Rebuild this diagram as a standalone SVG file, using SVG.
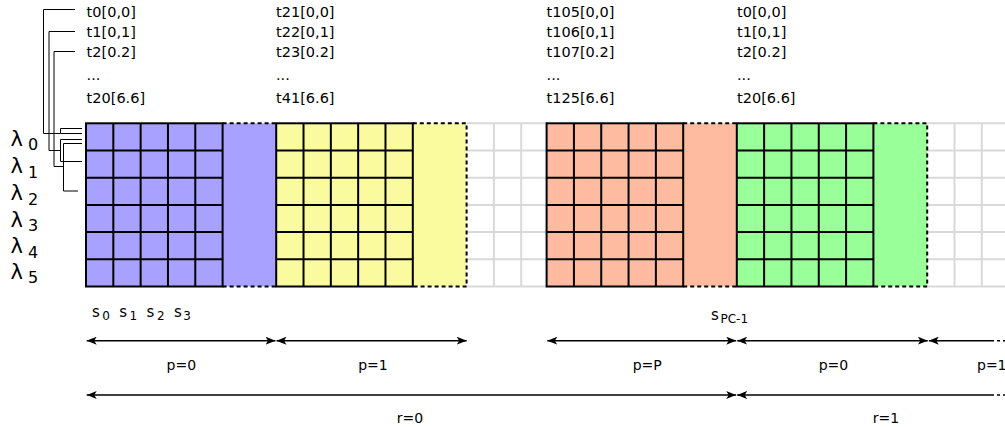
<svg xmlns="http://www.w3.org/2000/svg" xmlns:xlink="http://www.w3.org/1999/xlink" width="1005" height="427" viewBox="0 0 1005 427">
  <style>
    text { font-family: "DejaVu Sans", "Liberation Sans", sans-serif; fill: #000; }
    .task { font-size: 14.5px; }
    .lam { font-size: 21px; }
    .lsub { font-size: 16px; }
    .s { font-size: 15px; }
    .ssub { font-size: 12px; }
    .lbl { font-size: 14px; text-anchor: middle; }
    .grid { fill: none; stroke: #000; stroke-width: 2; }
    .dash { fill: none; stroke: #000; stroke-width: 2; stroke-dasharray: 4 3; }
    .ghost { fill: none; stroke: #d9d9d9; stroke-width: 2; }
    .link { fill: none; stroke: #000; stroke-width: 1; }
    .dim { fill: none; stroke: #000; stroke-width: 1.5; }
    .dimend { fill: none; stroke: #000; stroke-width: 1.5; stroke-dasharray: 3 3; }
  </style>
  <defs>
    <!-- 5 x 6 cell grid of one partition -->
    <g id="cells">
      <rect x="0" y="0" width="136.6" height="163.2" class="grid"/>
      <path class="grid" d="M27.32,0V163.2M54.64,0V163.2M81.96,0V163.2M109.28,0V163.2M0,27.2H136.6M0,54.4H136.6M0,81.6H136.6M0,108.8H136.6M0,136H136.6"/>
    </g>
    <marker id="arr" viewBox="0 0 10 8" refX="10" refY="4" markerWidth="10" markerHeight="8" markerUnits="userSpaceOnUse" orient="auto-start-reverse">
      <path d="M0,0L10,4L0,8L2.5,4Z" fill="#000"/>
    </marker>
  </defs>

  <!-- unused grey cells -->
  <g id="idle-cells" class="ghost">
    <path d="M466.6,123.3H546.6M466.6,150.5H546.6M466.6,177.7H546.6M466.6,204.9H546.6M466.6,232.1H546.6M466.6,259.3H546.6M466.6,286.5H546.6M493.9,123.3V286.5M521.2,123.3V286.5"/>
    <path d="M927.2,123.3H1005M927.2,150.5H1005M927.2,177.7H1005M927.2,204.9H1005M927.2,232.1H1005M927.2,259.3H1005M927.2,286.5H1005M954.5,123.3V286.5M981.8,123.3V286.5"/>
  </g>

  <!-- partition p=0, r=0 -->
  <g id="block-p0" transform="translate(86,123.3)">
    <rect x="0" y="0" width="190.4" height="163.2" fill="#A9A1FF"/>
    <use xlink:href="#cells"/>
    <path class="dash" d="M136.6,0H190.4M136.6,163.2H190.4"/>
  </g>

  <!-- partition p=1, r=0 -->
  <g id="block-p1" transform="translate(276.2,123.3)">
    <rect x="0" y="0" width="190.4" height="163.2" fill="#FAFA9E"/>
    <use xlink:href="#cells"/>
    <path class="dash" d="M136.6,0H190.4V163.2H136.6"/>
  </g>

  <!-- partition p=P, r=0 -->
  <g id="block-pP" transform="translate(546.6,123.3)">
    <rect x="0" y="0" width="190.4" height="163.2" fill="#FFBB9F"/>
    <use xlink:href="#cells"/>
    <path class="dash" d="M136.6,0H190.4M136.6,163.2H190.4"/>
  </g>

  <!-- partition p=0, r=1 -->
  <g id="block-p0-r1" transform="translate(736.8,123.3)">
    <rect x="0" y="0" width="190.4" height="163.2" fill="#99FF99"/>
    <use xlink:href="#cells"/>
    <path class="dash" d="M136.6,0H190.4V163.2H136.6"/>
  </g>

  <!-- task labels -->
  <g id="tasks-p0" class="task">
    <text x="86.6" y="16.7">t0[0,0]</text>
    <text x="86.6" y="36.7">t1[0,1]</text>
    <text x="86.6" y="56.7">t2[0.2]</text>
    <text x="86.6" y="80.3">...</text>
    <text x="86.6" y="102.7">t20[6.6]</text>
  </g>
  <g id="tasks-p1" class="task">
    <text x="276" y="16.7">t21[0,0]</text>
    <text x="276" y="36.7">t22[0,1]</text>
    <text x="276" y="56.7">t23[0.2]</text>
    <text x="276" y="80.3">...</text>
    <text x="276" y="102.7">t41[6.6]</text>
  </g>
  <g id="tasks-pP" class="task">
    <text x="546.6" y="16.7">t105[0,0]</text>
    <text x="546.6" y="36.7">t106[0,1]</text>
    <text x="546.6" y="56.7">t107[0.2]</text>
    <text x="546.6" y="80.3">...</text>
    <text x="546.6" y="102.7">t125[6.6]</text>
  </g>
  <g id="tasks-p0-r1" class="task">
    <text x="737" y="16.7">t0[0,0]</text>
    <text x="737" y="36.7">t1[0,1]</text>
    <text x="737" y="56.7">t2[0.2]</text>
    <text x="737" y="80.3">...</text>
    <text x="737" y="102.7">t20[6.6]</text>
  </g>

  <!-- wavelength rows -->
  <g id="lambdas">
    <text class="lam" x="10.5" y="146">λ</text><text class="lsub" x="28" y="150.3">0</text>
    <text class="lam" x="10.5" y="173.3">λ</text><text class="lsub" x="28" y="177.8">1</text>
    <text class="lam" x="10.5" y="200">λ</text><text class="lsub" x="28" y="204.5">2</text>
    <text class="lam" x="10.5" y="226.7">λ</text><text class="lsub" x="28" y="231.2">3</text>
    <text class="lam" x="10.5" y="253.3">λ</text><text class="lsub" x="28" y="257.8">4</text>
    <text class="lam" x="10.5" y="278.5">λ</text><text class="lsub" x="28" y="283">5</text>
  </g>

  <!-- slot labels -->
  <g id="slots">
    <text class="s" x="92" y="316.7">s</text><text class="ssub" x="102.3" y="319.5">0</text>
    <text class="s" x="119.3" y="316.7">s</text><text class="ssub" x="129.6" y="319.5">1</text>
    <text class="s" x="146.6" y="316.7">s</text><text class="ssub" x="156.9" y="319.5">2</text>
    <text class="s" x="173.9" y="316.7">s</text><text class="ssub" x="183.2" y="319.5">3</text>
    <text class="s" x="711" y="320">s</text><text class="ssub" x="720.5" y="323.3">PC-1</text>
  </g>

  <!-- connectors: task to wavelength pairs, and extent arrows -->
  <g id="connectors">
    <path class="link" d="M75,9.5H43.5V133.5H60.5M60.5,133.5V128.5H82M60.5,133.5H82"/>
    <path class="link" d="M75,31.5H49V150.5H60.5M60.5,139.5V161.5M60.5,139.5H82M60.5,161.5H82"/>
    <path class="link" d="M75,51.5H54V166.5H63.5M63.5,143.5V191M63.5,143.5H82M63.5,191H78"/>

    <path class="dim" d="M86.7,340.7H275.5" marker-start="url(#arr)" marker-end="url(#arr)"/>
    <path class="dim" d="M276.5,340.7H466.7" marker-start="url(#arr)" marker-end="url(#arr)"/>
    <path class="dim" d="M547.3,340.7H736.2" marker-start="url(#arr)" marker-end="url(#arr)"/>
    <path class="dim" d="M737.2,340.7H927.8" marker-start="url(#arr)" marker-end="url(#arr)"/>
    <path class="dim" d="M928.8,340.7H991" marker-start="url(#arr)"/>
    <path class="dimend" d="M991,340.7H1005"/>

    <path class="dim" d="M86.7,395H736.2" marker-start="url(#arr)" marker-end="url(#arr)"/>
    <path class="dim" d="M737.2,395H991" marker-start="url(#arr)"/>
    <path class="dimend" d="M991,395H1005"/>
  </g>

  <!-- extent labels -->
  <g id="extents" class="lbl">
    <text x="181.3" y="370">p=0</text>
    <text x="373" y="370">p=1</text>
    <text x="647.2" y="370">p=P</text>
    <text x="833.5" y="370">p=0</text>
    <text x="977" y="370" style="text-anchor:start">p=1</text>
    <text x="410" y="423">r=0</text>
    <text x="886" y="423">r=1</text>
  </g>
</svg>
